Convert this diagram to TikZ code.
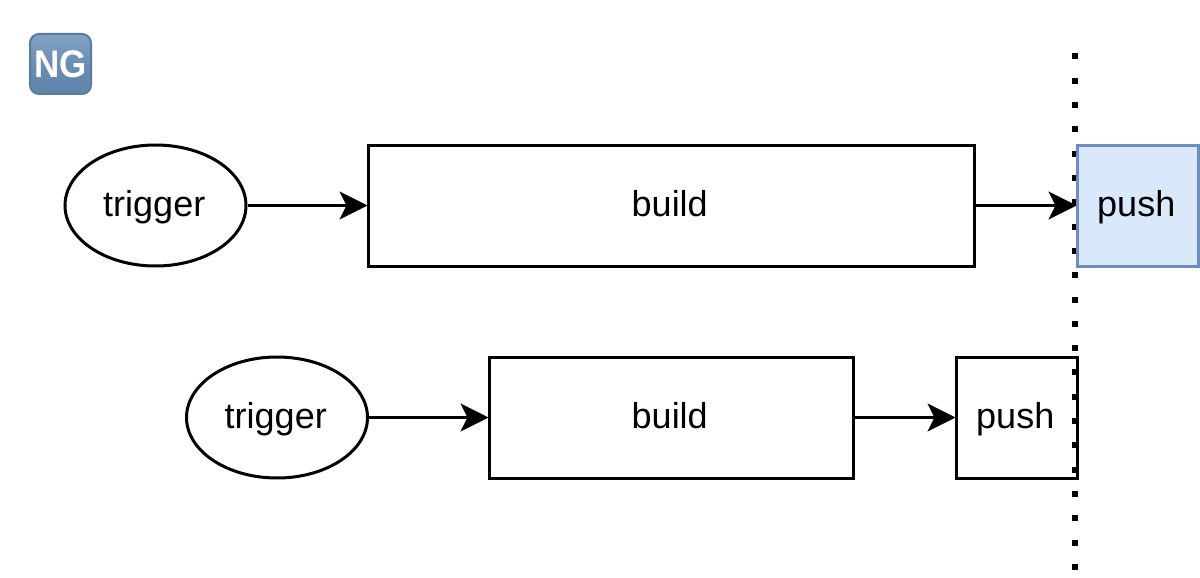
\documentclass[tikz,border=0pt]{standalone}
\usepackage{fontspec}
\setmainfont{Liberation Sans}
\usetikzlibrary{arrows.meta,shapes.geometric}
\definecolor{pushfill}{HTML}{DAE8FC}
\definecolor{pushline}{HTML}{6C8EBF}
\definecolor{ngmid}{HTML}{6B8EB4}
\definecolor{ngtop}{HTML}{82A2C2}
\definecolor{ngbot}{HTML}{5F83AA}
\definecolor{ngedge}{HTML}{587B9F}
\tikzset{
  base/.style={draw=black,line width=3pt,inner sep=0pt,font=\fontsize{36}{40}\selectfont,text=black,text height=28pt,text depth=6pt,execute at begin node=\hspace*{-2.5pt}},
  boxnode/.style={base,rectangle,minimum height=121pt},
  ovalnode/.style={base,ellipse,minimum width=181pt,minimum height=121pt},
  flow/.style={line width=3pt,-{Stealth[length=28pt,width=28pt,inset=7pt]},shorten >=-1pt},
  guide/.style={line width=6pt,dash pattern=on 6pt off 18.3pt},
  ngbadge/.style={rectangle,rounded corners=9pt,draw=ngedge,line width=2pt,top color=ngtop,bottom color=ngbot,middle color=ngmid,minimum width=61pt,minimum height=60pt,inner sep=0pt,text=white,font=\fontsize{35}{35}\selectfont\bfseries}
}
\begin{document}
\begin{tikzpicture}[x=1pt,y=-1pt]
\useasboundingbox (0,0) rectangle (1200,578);
\coordinate (guidetop) at (1074.7,53.5);
\coordinate (guidebot) at (1074.7,571);
\draw[guide] (guidetop) -- (guidebot);
\node[ngbadge] (ng) at (60.5,64) {\scalebox{1}[1.1]{NG}};
\node[ovalnode] (t1) at (155.5,205.5) {trigger};
\node[boxnode,minimum width=606pt] (b1) at (671,205.5) {build};
\node[boxnode,minimum width=121pt,fill=pushfill,draw=pushline] (p1) at (1137.5,205.5) {push};
\node[ovalnode] (t2) at (277,417.5) {trigger};
\node[boxnode,minimum width=364pt] (b2) at (671,417.5) {build};
\node[boxnode,minimum width=121pt] (p2) at (1016.5,417.5) {push};
\draw[flow] (t1) -- (b1);
\draw[flow] (b1) -- (p1);
\draw[flow] (t2) -- (b2);
\draw[flow] (b2) -- (p2);
\end{tikzpicture}
\end{document}
